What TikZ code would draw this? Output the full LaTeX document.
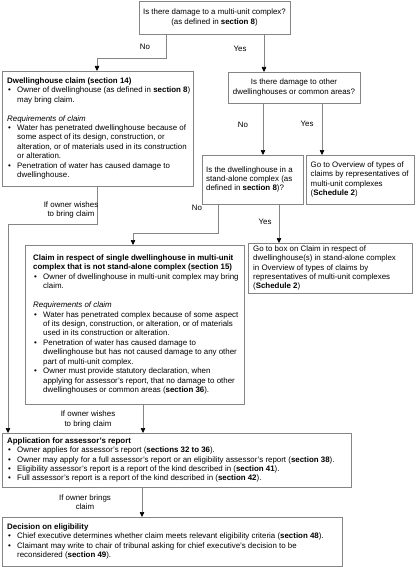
\documentclass[tikz,border=0pt]{standalone}
\usepackage{fontspec}
\setmainfont{Liberation Sans}
\usetikzlibrary{arrows.meta}
\definecolor{linegray}{HTML}{858585}
\newcommand{\myfs}{\fontsize{7.9}{9.45}\selectfont}
\newcommand{\bul}{\makebox[10pt][l]{\hspace{1pt}\textbullet}}
\newcommand{\cont}{\hspace*{10pt}}
\tikzset{
  box/.style={draw=linegray, line width=0.7pt, inner sep=0pt, outer sep=0pt, anchor=north west},
  txt/.style={font=\myfs, align=left, inner sep=0pt, anchor=west},
  ctxt/.style={font=\myfs, align=center, inner sep=0pt, anchor=center},
  lbl/.style={font=\myfs, align=center, inner sep=0pt},
  conn/.style={draw=linegray, line width=0.7pt, -{Triangle[width=4.5pt,length=5pt,color=black]}}
}
\begin{document}
\begin{tikzpicture}[x=1pt,y=-1pt]
\useasboundingbox[fill=white] (0,0) rectangle (415,567);
% boxes
\node[box, minimum width=151pt, minimum height=33pt] (b1) at (139,1) {};
\node[box, minimum width=191pt, minimum height=115pt] (b2) at (2,71) {};
\node[box, minimum width=132pt, minimum height=31pt] (b3) at (228,72) {};
\node[box, minimum width=101pt, minimum height=49pt] (b4) at (202,155) {};
\node[box, minimum width=108pt, minimum height=49pt] (b5) at (306,155) {};
\node[box, minimum width=164pt, minimum height=50pt] (b6) at (248,243) {};
\node[box, minimum width=219pt, minimum height=159pt] (b7) at (25,245) {};
\node[box, minimum width=349pt, minimum height=54pt] (b8) at (2,433) {};
\node[box, minimum width=340pt, minimum height=49pt] (b9) at (2,517) {};
% texts
\node[ctxt] (t1) at (b1.center) {Is there damage to a multi-unit complex?\\(as defined in \textbf{section 8})};
\node[txt] (t2) at ([xshift=5pt]b2.west) {\textbf{Dwellinghouse claim (section 14)}\\
\bul Owner of dwellinghouse (as defined in \textbf{section 8})\\
\cont may bring claim.\\[9.45pt]
\textit{Requirements of claim}\\
\bul Water has penetrated dwellinghouse because of\\
\cont some aspect of its design, construction, or\\
\cont alteration, or of materials used in its construction\\
\cont or alteration.\\
\bul Penetration of water has caused damage to\\
\cont dwellinghouse.};
\node[ctxt] (t3) at (b3.center) {Is there damage to other\\dwellinghouses or common areas?};
\node[txt] (t4) at ([xshift=4pt]b4.west) {Is the dwellinghouse in a\\stand-alone complex (as\\defined in \textbf{section 8})?};
\node[txt] (t5) at ([xshift=4.5pt]b5.west) {Go to Overview of types of\\claims by representatives of\\multi-unit complexes\\(\textbf{Schedule 2})};
\node[txt] (t6) at ([xshift=5pt]b6.west) {Go to box on Claim in respect of\\dwellinghouse(s) in stand-alone complex\\in Overview of types of claims by\\representatives of multi-unit complexes\\(\textbf{Schedule 2})};
\node[txt] (t7) at ([xshift=8pt]b7.west) {\textbf{Claim in respect of single dwellinghouse in multi-unit}\\
\textbf{complex that is not stand-alone complex (section 15)}\\
\bul Owner of dwellinghouse in multi-unit complex may bring\\
\cont claim.\\[9.45pt]
\textit{Requirements of claim}\\
\bul Water has penetrated complex because of some aspect\\
\cont of its design, construction, or alteration, or of materials\\
\cont used in its construction or alteration.\\
\bul Penetration of water has caused damage to\\
\cont dwellinghouse but has not caused damage to any other\\
\cont part of multi-unit complex.\\
\bul Owner must provide statutory declaration, when\\
\cont applying for assessor's report, that no damage to other\\
\cont dwellinghouses or common areas (\textbf{section 36}).};
\node[txt] (t8) at ([xshift=5pt]b8.west) {\textbf{Application for assessor's report}\\
\bul Owner applies for assessor's report (\textbf{sections 32 to 36}).\\
\bul Owner may apply for a full assessor's report or an eligibility assessor's report (\textbf{section 38}).\\
\bul Eligibility assessor's report is a report of the kind described in (\textbf{section 41}).\\
\bul Full assessor's report is a report of the kind described in (\textbf{section 42}).};
\node[txt] (t9) at ([xshift=5pt]b9.west) {\textbf{Decision on eligibility}\\
\bul Chief executive determines whether claim meets relevant eligibility criteria (\textbf{section 48}).\\
\bul Claimant may write to chair of tribunal asking for chief executive's decision to be\\
\cont reconsidered (\textbf{section 49}).};
% connectors
\draw[conn] ([xshift=27pt]b1.south west) -- ++(0,24) -| ([xshift=95pt]b2.north west);
\draw[conn] ([xshift=125pt]b1.south west) -- ([xshift=36pt]b3.north west);
\draw[conn] ([xshift=35pt]b3.south west) -- ([xshift=61pt]b4.north west);
\draw[conn] ([xshift=94pt]b3.south west) -- ([xshift=16pt]b5.north west);
\draw[conn] ([xshift=77pt]b4.south west) -- ([xshift=31pt]b6.north west);
\draw[conn] ([xshift=16pt]b4.south west) -- ++(0,29) -| ([xshift=108pt]b7.north west);
\draw[conn] ([xshift=95pt]b2.south west) -- ++(0,38) -| ([xshift=6pt]b8.north west);
\draw[conn] ([xshift=118pt]b7.south west) -- ([xshift=141pt]b8.north west);
\draw[conn] ([xshift=140pt]b8.south west) -- ([xshift=140pt]b9.north west);
% labels
\node[lbl] (l1) at (145,47) {No};
\node[lbl] (l2) at (240,49) {Yes};
\node[lbl] (l3) at (243,125) {No};
\node[lbl] (l4) at (307,124) {Yes};
\node[lbl] (l5) at (265,222) {Yes};
\node[lbl] (l6) at (197,208) {No};
\node[lbl] (l7) at (71,210) {If owner wishes\\to bring claim};
\node[lbl] (l8) at (88,419.5) {If owner wishes\\to bring claim};
\node[lbl] (l9) at (85,502) {If owner brings\\claim};
\end{tikzpicture}
\end{document}
